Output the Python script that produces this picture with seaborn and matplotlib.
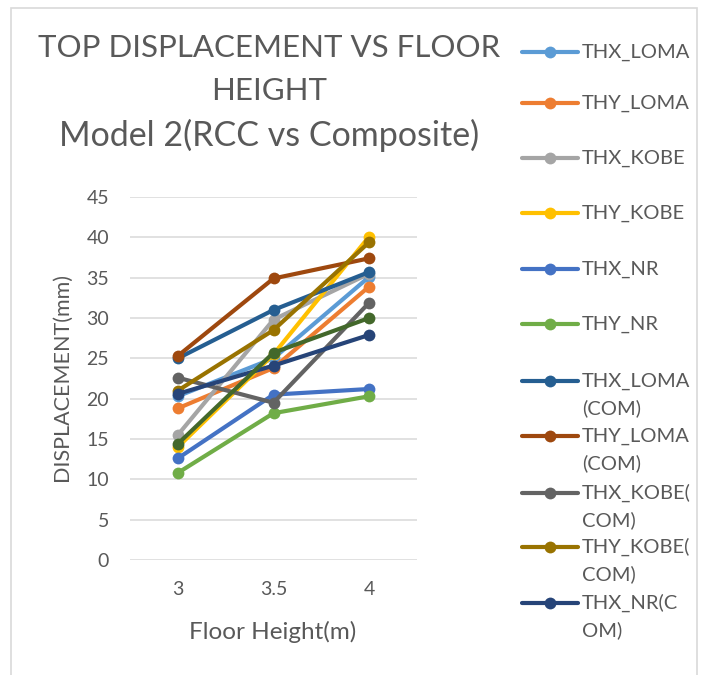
import matplotlib
matplotlib.use("Agg")
import matplotlib.pyplot as plt
from matplotlib.lines import Line2D
from matplotlib.patches import Rectangle
import seaborn as sns
import pandas as pd

# Floor heights (m) on the category axis
floor_heights = ["3", "3.5", "4"]

# Top displacement (mm) for each time-history case
thx_loma = [20.3, 25.0, 35.1]
thy_loma = [18.8, 23.8, 33.9]
thx_kobe = [15.5, 29.8, 35.5]
thy_kobe = [14.0, 25.5, 40.1]
thx_nr = [12.6, 20.5, 21.2]
thy_nr = [10.8, 18.2, 20.3]
thx_loma_com = [25.0, 31.0, 35.7]
thy_loma_com = [25.3, 34.9, 37.4]
thx_kobe_com = [22.6, 19.5, 31.9]
thy_kobe_com = [21.0, 28.5, 39.4]
thx_nr_com = [20.6, 24.1, 27.9]
thy_nr_com = [14.4, 25.7, 30.0]

series_names = [
    "THX_LOMA", "THY_LOMA", "THX_KOBE", "THY_KOBE", "THX_NR", "THY_NR",
    "THX_LOMA (COM)", "THY_LOMA (COM)", "THX_KOBE(COM)", "THY_KOBE(COM)",
    "THX_NR(COM)", "THY_NR(COM)",
]
series_values = [
    thx_loma, thy_loma, thx_kobe, thy_kobe, thx_nr, thy_nr,
    thx_loma_com, thy_loma_com, thx_kobe_com, thy_kobe_com,
    thx_nr_com, thy_nr_com,
]
legend_labels = [
    "THX_LOMA", "THY_LOMA", "THX_KOBE", "THY_KOBE", "THX_NR", "THY_NR",
    "THX_LOMA\n(COM)", "THY_LOMA\n(COM)", "THX_KOBE(\nCOM)", "THY_KOBE(\nCOM)",
    "THX_NR(C\nOM)",
]
colors = [
    "#5B9BD5", "#ED7D31", "#A5A5A5", "#FFC000", "#4472C4", "#70AD47",
    "#255E91", "#9E480E", "#636363", "#997300", "#264478", "#43682B",
]

rows = []
for name, vals in zip(series_names, series_values):
    for h, v in zip(floor_heights, vals):
        rows.append({"Floor Height": h, "Displacement": v, "Case": name})
df = pd.DataFrame(rows)

sns.set_theme(style="white")
plt.rcParams["font.family"] = ["Lato", "DejaVu Sans"]
text_color = "#595959"

W, H = 708, 675
fig = plt.figure(figsize=(W / 100, H / 100), dpi=100)
ax_l, ax_r, ax_t, ax_b = 130, 417, 197, 560
ax = fig.add_axes([ax_l / W, 1 - ax_b / H, (ax_r - ax_l) / W, (ax_b - ax_t) / H])

# outer chart border
fig.patches.append(Rectangle((11 / W, -0.05), (697 - 11) / W, 1.05 - 8 / H,
                             transform=fig.transFigure, fill=False,
                             edgecolor="#D9D9D9", linewidth=1.2, zorder=0))

sns.lineplot(data=df, x="Floor Height", y="Displacement", hue="Case",
             hue_order=series_names, palette=colors, marker="o",
             markersize=8.5, markeredgewidth=0, linewidth=3.0,
             sort=False, legend=False, ax=ax)

ax.set_xlim(-0.5, 2.5)
ax.set_ylim(0, 45)
ax.set_yticks(range(0, 50, 5))
ax.yaxis.grid(True, color="#D9D9D9", linewidth=1.1)
ax.set_axisbelow(True)
for s in ax.spines.values():
    s.set_visible(False)
ax.tick_params(axis="both", length=0, labelsize=14, labelcolor=text_color)
ax.tick_params(axis="y", pad=15)
ax.tick_params(axis="x", pad=15)
ax.set_xlabel("Floor Height(m)", fontsize=17.5, color=text_color, va="center")
ax.set_ylabel("DISPLACEMENT(mm)", fontsize=15.5, color=text_color, va="center")
ax.xaxis.set_label_coords((273 - ax_l) / (ax_r - ax_l), (ax_b - 632) / (ax_b - ax_t))
ax.yaxis.set_label_coords((62 - ax_l) / (ax_r - ax_l), (ax_b - 377) / (ax_b - ax_t))

title_lines = ["TOP DISPLACEMENT VS FLOOR", "HEIGHT", "Model 2(RCC vs Composite)"]
title_sizes = [22.5, 22.5, 24.5]
for txt, y, fs in zip(title_lines, [48, 91, 135], title_sizes):
    fig.text(269 / W, 1 - y / H, txt, ha="center", va="center",
             fontsize=fs, color=text_color)

# legend entries (the last series does not fit in the legend box)
lines = ax.get_lines()
row_y = [52, 103, 158, 213, 269, 324, 381, 436, 493, 547, 603]
for line, label, y in zip(lines, legend_labels, row_y):
    yf = 1 - y / H
    fig.add_artist(Line2D([522 / W, 578 / W], [yf, yf], transform=fig.transFigure,
                          color=line.get_color(), linewidth=3.0))
    fig.add_artist(Line2D([550 / W], [yf], transform=fig.transFigure,
                          color=line.get_color(), marker="o", markersize=8.5,
                          markeredgewidth=0))
    for k, part in enumerate(label.split("\n")):
        fig.text(582 / W, 1 - (y + 27 * k) / H, part, ha="left", va="center",
                 fontsize=14.5, color=text_color)

fig.savefig("out.png", dpi=100)
